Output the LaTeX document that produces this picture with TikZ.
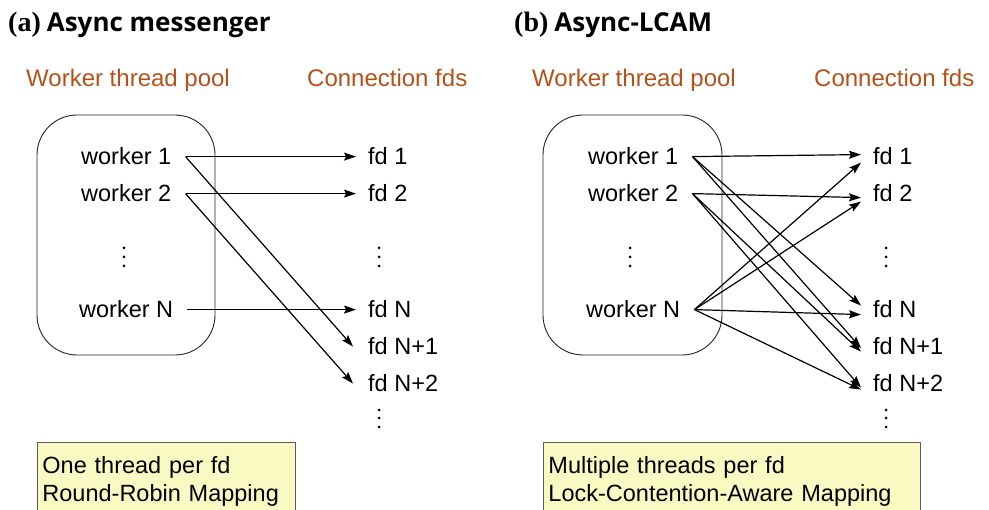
\documentclass[tikz,border=0pt]{standalone}
\usepackage{fontspec}
\setmainfont{Liberation Sans}
\newfontfamily\titleserif{Liberation Serif}
\newfontfamily\titlesans{Open Sans}
\usetikzlibrary{arrows.meta}
\definecolor{lblorange}{RGB}{183,80,24}
\definecolor{noteyellow}{RGB}{248,250,194}
\definecolor{noteborder}{RGB}{90,90,90}
\begin{document}
\begin{tikzpicture}[x=1pt,y=-1pt,
  bodyfont/.style={font=\fontsize{23.5}{28}\selectfont},
  worker/.style={bodyfont, inner xsep=14pt, inner ysep=0pt, anchor=base west},
  fdnode/.style={bodyfont, inner xsep=12pt, inner ysep=0pt, anchor=base west},
  header/.style={font=\fontsize{24}{28}\selectfont, text=lblorange, inner sep=0pt, anchor=base west},
  title/.style={inner sep=0pt, anchor=base west},
  pool/.style={draw=black!85, line width=0.9pt, rounded corners=40pt},
  conn/.style={line width=1.2pt, -{Stealth[length=12pt,width=8pt,inset=2pt]}},
  note/.style={draw=noteborder, fill=noteyellow, line width=0.9pt, anchor=north west,
    inner xsep=5pt, inner ysep=14pt, align=left, font=\fontsize{23.5}{28}\selectfont}
]
\useasboundingbox (0,0) rectangle (989,510);

% ---------- (a) ----------
\node[title] (ta) at (8,32) {{\titleserif\bfseries\fontsize{28}{30}\selectfont (a)}\hspace{6pt}{\titlesans\bfseries\fontsize{26}{30}\selectfont Async messenger}};
\node[header] (hpa) at (26,87) {Worker thread pool};
\node[header] (hfa) at (307,87) {Connection fds};

\draw[pool] (37,115) rectangle (215,355);

\node[worker] (aw1) at (67,165) {worker 1};
\node[worker] (aw2) at (67,202) {worker 2};
\node[worker] (awN) at (65,318) {worker N};

\node[fdnode] (af1) at (356,165) {fd 1};
\node[fdnode] (af2) at (356,202) {fd 2};
\node[fdnode] (afN) at (356,318) {fd N};
\node[fdnode] (afN1) at (356,355) {fd N+1};
\node[fdnode] (afN2) at (356,392) {fd N+2};

\foreach \yy in {248,257,266} {
  \fill (124,\yy) circle (1.5);
  \fill (379,\yy) circle (1.5);
}
\foreach \yy in {410,418,427} \fill (379,\yy) circle (1.5);

\draw[conn] (aw1.east) -- (af1.west);
\draw[conn] (aw2.east) -- (af2.west);
\draw[conn] (awN.east) -- (afN.west);
\draw[conn] (aw1.east) -- ([xshift=-3pt]afN1.west);
\draw[conn] (aw2.east) -- ([xshift=-3pt]afN2.west);

\node[note, text width=248pt] (na) at (37,442) {One thread per fd\\Round-Robin Mapping\\[10pt]\mbox{}};

% ---------- (b) ----------
\node[title] (tb) at (514,32) {{\titleserif\bfseries\fontsize{28}{30}\selectfont (b)}\hspace{6pt}{\titlesans\bfseries\fontsize{26}{30}\selectfont Async-LCAM}};
\node[header] (hpb) at (532,87) {Worker thread pool};
\node[header] (hfb) at (814,87) {Connection fds};

\draw[pool] (543,115) rectangle (722,355);

\node[worker] (bw1) at (574,165) {worker 1};
\node[worker] (bw2) at (574,202) {worker 2};
\node[worker] (bwN) at (572,318) {worker N};

\node[fdnode] (bf1) at (861,165) {fd 1};
\node[fdnode] (bf2) at (861,202) {fd 2};
\node[fdnode] (bfN) at (861,318) {fd N};
\node[fdnode] (bfN1) at (861,355) {fd N+1};
\node[fdnode] (bfN2) at (861,392) {fd N+2};

\foreach \yy in {248,257,266} {
  \fill (630,\yy) circle (1.5);
  \fill (886,\yy) circle (1.5);
}
\foreach \yy in {410,418,427} \fill (886,\yy) circle (1.5);

\draw[conn] (bw1.east) -- ([yshift=2pt]bf1.west);
\draw[conn] (bw1.east) -- ([yshift=4pt]bfN.west);
\draw[conn] (bw1.east) -- ([yshift=-1.5pt]bfN1.west);
\draw[conn] (bw2.east) -- ([yshift=-4pt]bf2.west);
\draw[conn] (bw2.east) -- ([yshift=-5pt]bfN1.west);
\draw[conn] (bw2.east) -- ([yshift=-4pt]bfN2.west);
\draw[conn] (bwN.east) -- ([yshift=-6pt]bf1.west);
\draw[conn] (bwN.east) -- ([yshift=-8pt]bf2.west);
\draw[conn] (bwN.east) -- ([yshift=-5pt]bfN.west);
\draw[conn] (bwN.east) -- ([yshift=-6pt]bfN2.west);

\node[note, text width=367pt] (nb) at (543,442) {Multiple threads per fd\\Lock-Contention-Aware Mapping\\[10pt]\mbox{}};
\end{tikzpicture}
\end{document}
